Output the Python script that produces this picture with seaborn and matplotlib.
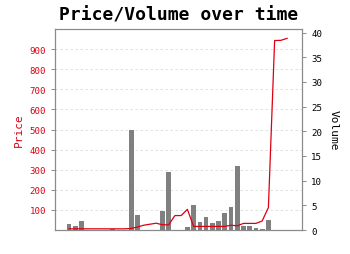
import matplotlib
matplotlib.use("Agg")
import matplotlib.pyplot as plt
import seaborn as sns
import numpy as np

# ---- data ----
idx = list(range(36))
price = [6, 6, 6, 6, 6, 6, 6, 6, 6, 6,
         8, 15, 24, 29, 34, 26, 26, 72, 72, 103,
         18, 18, 18, 18, 18, 18, 24, 21, 33, 33,
         33, 45, 112, 943, 944, 954]
volume = [1.3, 0.75, 1.8, 0, 0, 0, 0, 0.3, 0, 0,
          20.3, 3.1, 0, 0, 0, 3.8, 11.7, 0, 0, 0.6,
          5.0, 1.55, 2.6, 1.5, 1.75, 3.45, 4.65, 12.9, 0.75, 0.75,
          0.5, 0.15, 2.0, 0, 0, 0]
price_ticks = [100, 200, 300, 400, 500, 600, 700, 800, 900]
volume_ticks = [0, 5, 10, 15, 20, 25, 30, 35, 40]
x_ticks = [0, 5, 10, 15, 20, 25, 30, 35]
title = "Price/Volume over time"

RED = "#dc0010"
GRAY = "#8a8a8a"
MONO = "DejaVu Sans Mono"

plt.rcParams["font.family"] = MONO

fig = plt.figure(figsize=(3.5, 2.55), dpi=100)
ax = fig.add_axes([0.157, 0.094, 0.706, 0.788])
ax_v = ax.twinx()
ax_l = ax.twinx()

# volume bars
sns.barplot(x=idx, y=volume, ax=ax_v, color="#808080", saturation=1,
            width=0.75, orient="x")
# price line
sns.lineplot(x=idx, y=price, ax=ax_l, color=RED, linewidth=0.9)

xlim = (-2.25, 37.4)
for a in (ax, ax_v, ax_l):
    a.set_xlim(*xlim)
ax.set_ylim(0, 1000)
ax_l.set_ylim(0, 1000)
ax_v.set_ylim(0, 40.7)

# price axis (left)
ax.set_yticks(price_ticks)
ax.set_yticklabels([str(t) for t in price_ticks])
ax.tick_params(axis="y", colors=GRAY, labelcolor=RED, labelsize=6.6,
               length=3, width=0.7)
ax.grid(axis="y", color="#dcdcdc", linestyle=(0, (3, 3)), linewidth=0.6)
ax.set_axisbelow(True)
ax.set_ylabel("Price", color=RED, fontsize=8, labelpad=4)

# x axis
ax.set_xticks(x_ticks)
ax.set_xticklabels([])
ax.tick_params(axis="x", colors=GRAY, length=3, width=0.7)
for a in (ax_v, ax_l):
    a.set_xticks([])
    a.set_xlabel("")

# volume axis (right)
ax_v.set_yticks(volume_ticks)
ax_v.set_yticklabels([str(t) for t in volume_ticks])
ax_v.tick_params(axis="y", colors=GRAY, labelcolor="black", labelsize=6.6,
                 length=3, width=0.7)
ax_v.set_ylabel("Volume", fontsize=8, rotation=270, va="bottom", labelpad=5)

# line axis hidden
ax_l.yaxis.set_visible(False)
ax_l.patch.set_visible(False)
for s in ax_l.spines.values():
    s.set_visible(False)

for a in (ax, ax_v):
    for s in a.spines.values():
        s.set_color(GRAY)
        s.set_linewidth(0.8)

ax.set_title(title, fontsize=13, fontweight="bold", family=MONO, pad=7)

fig.savefig("out.png", dpi=100)
